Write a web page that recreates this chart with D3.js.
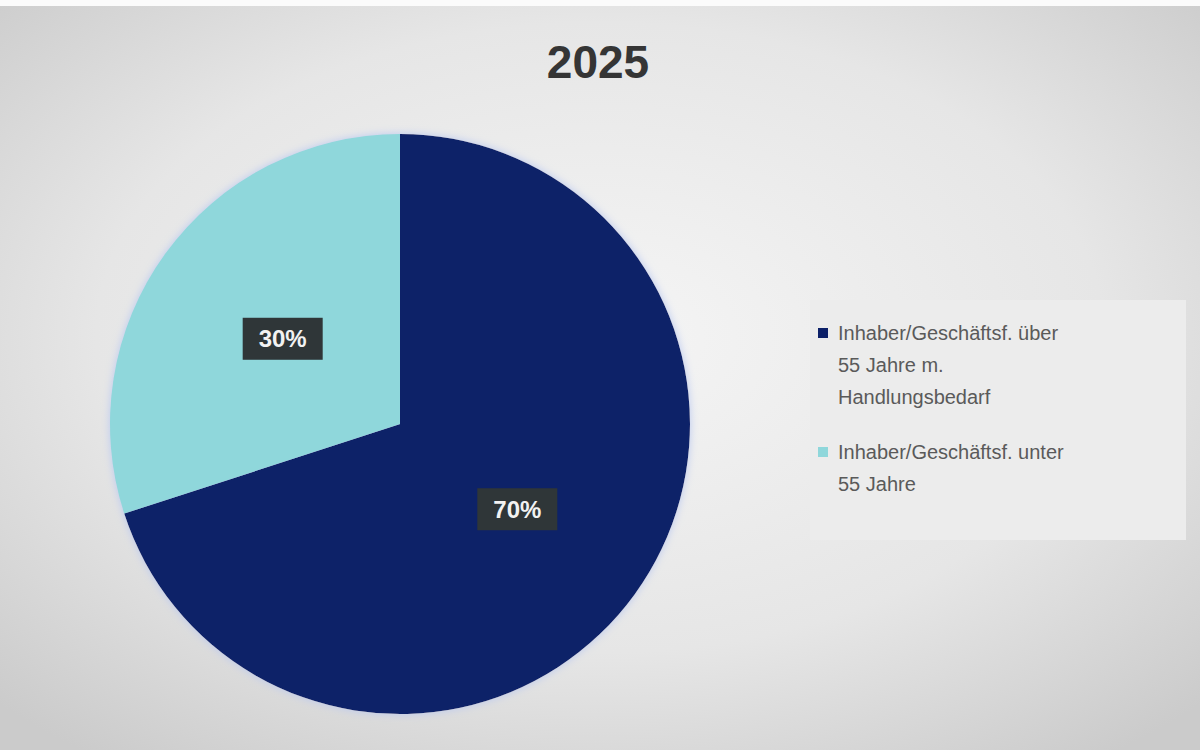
<!DOCTYPE html>
<html>
<head>
<meta charset="utf-8">
<script src="https://cdn.jsdelivr.net/npm/d3@7"></script>
<style>
  body { margin: 0; }
  svg { display: block; font-family: "Liberation Sans", Arial, sans-serif; }
</style>
</head>
<body>
<script>
// chart data
const categories = ["Inhaber/Geschäftsf. über 55 Jahre m. Handlungsbedarf", "Inhaber/Geschäftsf. unter 55 Jahre"]
const legendLines = [["Inhaber/Geschäftsf. über", "55 Jahre m.", "Handlungsbedarf"], ["Inhaber/Geschäftsf. unter", "55 Jahre"]]
const values = [70, 30]
const colors = ["#0c2068", "#8fd7db"]
const title = "2025"

let width = 1200, height = 750

let svg = d3.select("body").append("svg")
    .attr("width", width)
    .attr("height", height)

let defs = svg.append("defs")
let bg = defs.append("radialGradient").attr("id", "bg")
    .attr("cx", "50%").attr("cy", "45%").attr("r", "70%")
bg.append("stop").attr("offset", "0%").attr("stop-color", "#f5f5f5")
bg.append("stop").attr("offset", "60%").attr("stop-color", "#e6e6e6")
bg.append("stop").attr("offset", "100%").attr("stop-color", "#cbcbcb")

let glow = defs.append("filter").attr("id", "glow")
    .attr("x", "-10%").attr("y", "-10%").attr("width", "120%").attr("height", "120%")
glow.append("feGaussianBlur").attr("in", "SourceAlpha").attr("stdDeviation", 4).attr("result", "b")
glow.append("feFlood").attr("flood-color", "#b9c8f0")
glow.append("feComposite").attr("in2", "b").attr("operator", "in").attr("result", "s")
let merge = glow.append("feMerge")
merge.append("feMergeNode").attr("in", "s")
merge.append("feMergeNode").attr("in", "SourceGraphic")

svg.append("rect").attr("width", width).attr("height", height).attr("fill", "url(#bg)")
svg.append("rect").attr("width", width).attr("height", 6).attr("fill", "#fbfbfb")

svg.append("text")
    .attr("x", 598).attr("y", 78)
    .attr("text-anchor", "middle")
    .attr("font-size", 46).attr("font-weight", "bold")
    .attr("fill", "#353535")
    .text(title)

/** pie */
let cx = 400, cy = 424, radius = 290
let pie = d3.pie().sort(null).value(d => d)
let arc = d3.arc().innerRadius(0).outerRadius(radius)
let labelArc = d3.arc().innerRadius(radius * 0.5).outerRadius(radius * 0.5)

let g = svg.append("g").attr("transform", `translate(${cx},${cy})`)
let slices = pie(values)

g.append("g").attr("filter", "url(#glow)")
    .selectAll("path")
    .data(slices)
    .enter().append("path")
    .attr("d", arc)
    .attr("fill", (d, i) => colors[i])

let labels = g.selectAll(".lbl")
    .data(slices)
    .enter().append("g")
    .attr("class", "lbl")
    .attr("transform", d => `translate(${labelArc.centroid(d)})`)

labels.append("rect")
    .attr("x", -40).attr("y", -21)
    .attr("width", 80).attr("height", 42)
    .attr("fill", "#2f3638")

labels.append("text")
    .attr("text-anchor", "middle")
    .attr("dy", "0.35em")
    .attr("font-size", 24).attr("font-weight", "bold")
    .attr("fill", "#f2f2f2")
    .text(d => d.data + "%")

/** legend */
let legend = svg.append("g")
legend.append("rect")
    .attr("x", 810).attr("y", 300)
    .attr("width", 376).attr("height", 240)
    .attr("fill", "#ececec")

let itemY = [333, 452]
let item = legend.selectAll(".item")
    .data(categories)
    .enter().append("g")
    .attr("class", "item")
    .attr("transform", (d, i) => `translate(818, ${itemY[i]})`)

item.append("rect")
    .attr("x", 0).attr("y", -5)
    .attr("width", 10).attr("height", 10)
    .attr("fill", (d, i) => colors[i])

item.append("text")
    .attr("font-size", 20)
    .attr("fill", "#5a5a5a")
    .selectAll("tspan")
    .data((d, i) => legendLines[i])
    .enter().append("tspan")
    .attr("x", 20)
    .attr("y", (d, j) => j * 32)
    .attr("dy", "0.35em")
    .text(d => d)
</script>
</body>
</html>
